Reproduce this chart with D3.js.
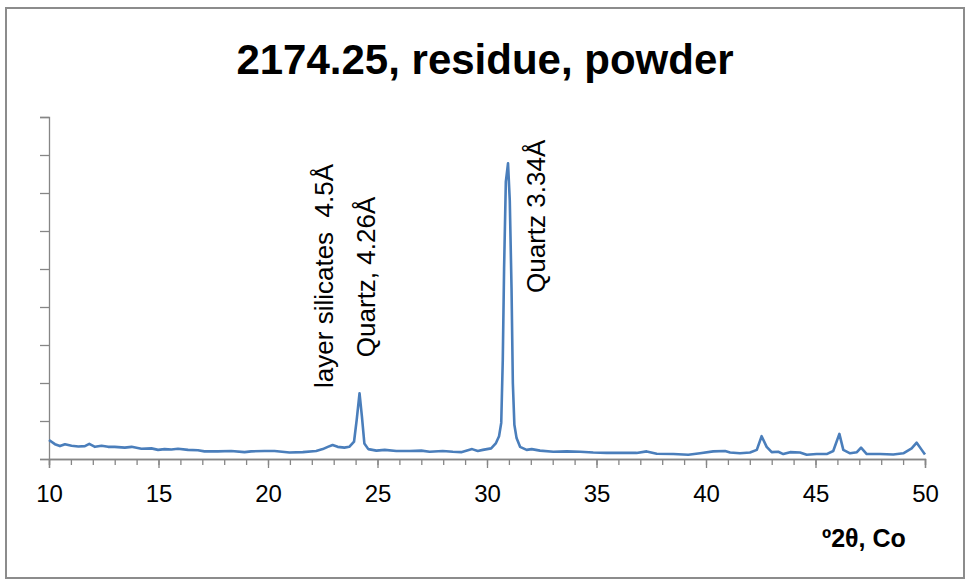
<!DOCTYPE html>
<html>
<head>
<meta charset="utf-8">
<script src="https://cdnjs.cloudflare.com/ajax/libs/d3/7.8.5/d3.min.js"></script>
<style>
  body { margin: 0; background: #fff; }
  text { font-family: "Liberation Sans", Arial, sans-serif; }
</style>
</head>
<body>
<div id="chart"></div>
<script>
// diffractogram: 2theta (Co) and relative intensity
var twoTheta = [10.00, 10.27, 10.50, 10.73, 11.03, 11.34, 11.64, 11.84, 12.10, 12.40, 12.70, 13.00,
  13.46, 13.77, 14.22, 14.68, 14.98, 15.28, 15.59, 15.89, 16.35, 16.80, 17.10, 17.71, 18.32, 18.93,
  19.23, 19.84, 20.30, 20.98, 21.59, 22.20, 22.50, 22.73, 22.95, 23.18, 23.49, 23.71, 23.93, 24.05,
  24.18, 24.29, 24.40, 24.58, 24.95, 25.33, 25.86, 26.47, 27.00, 27.38, 27.98, 28.44, 28.82, 29.32,
  29.58, 29.81, 30.19, 30.40, 30.55, 30.65, 30.72, 30.78, 30.86, 30.96, 31.04, 31.12, 31.18, 31.25,
  31.35, 31.51, 31.81, 32.04, 32.42, 33.03, 33.64, 34.25, 34.85, 35.46, 36.22, 36.83, 37.29, 37.75,
  38.51, 39.19, 39.73, 40.33, 40.87, 41.10, 41.55, 42.01, 42.32, 42.54, 42.77, 43.00, 43.30, 43.53,
  43.84, 44.29, 44.60, 45.05, 45.51, 45.81, 46.09, 46.27, 46.58, 46.89, 47.08, 47.34, 47.95, 48.55,
  49.01, 49.39, 49.62, 49.85, 50.00];
var intensity = [0.50, 0.39, 0.34, 0.39, 0.35, 0.33, 0.34, 0.40, 0.32, 0.35, 0.32, 0.32,
  0.30, 0.32, 0.27, 0.28, 0.24, 0.26, 0.25, 0.27, 0.24, 0.23, 0.20, 0.20, 0.21, 0.18,
  0.20, 0.21, 0.21, 0.17, 0.18, 0.21, 0.26, 0.32, 0.37, 0.32, 0.30, 0.32, 0.46, 1.03,
  1.73, 1.11, 0.41, 0.26, 0.22, 0.24, 0.21, 0.21, 0.22, 0.19, 0.21, 0.19, 0.18, 0.26,
  0.21, 0.24, 0.28, 0.41, 0.60, 0.95, 2.60, 5.00, 7.30, 7.78, 6.80, 4.50, 2.00, 0.90,
  0.55, 0.32, 0.24, 0.26, 0.22, 0.19, 0.20, 0.19, 0.17, 0.16, 0.16, 0.16, 0.20, 0.14,
  0.13, 0.11, 0.15, 0.20, 0.21, 0.17, 0.15, 0.17, 0.24, 0.60, 0.32, 0.18, 0.19, 0.13,
  0.18, 0.17, 0.11, 0.13, 0.13, 0.21, 0.66, 0.24, 0.15, 0.18, 0.30, 0.13, 0.13, 0.12,
  0.15, 0.28, 0.43, 0.24, 0.12];

var majorTicks = [10, 15, 20, 25, 30, 35, 40, 45, 50];
var yTicks = [0, 1, 2, 3, 4, 5, 6, 7, 8, 9];

// peak labels: text, anchor (2theta, intensity) where the rotated text starts
var peakLabels = ["layer silicates  4.5Å", "Quartz, 4.26Å", "Quartz 3.34Å"];
var labelTheta = [22.98, 24.9, 32.65];
var labelLevel = [1.87, 2.68, 4.37];

var W = 970, H = 583;
var margin = {top: 117, right: 45, bottom: 124, left: 49},
    width = W - margin.left - margin.right,
    height = H - margin.top - margin.bottom;

var root = d3.select("#chart")
  .append("svg")
    .attr("width", W)
    .attr("height", H);

// outer frame
root.append("rect")
  .attr("x", 6).attr("y", 8)
  .attr("width", 958).attr("height", 570)
  .attr("fill", "none")
  .attr("stroke", "#8c8c8c")
  .attr("stroke-width", 2);

root.append("text")
  .attr("x", 485).attr("y", 74)
  .attr("text-anchor", "middle")
  .style("font-size", "42px")
  .style("font-weight", "bold")
  .text("2174.25, residue, powder");

var svg = root.append("g")
  .attr("transform", "translate(" + margin.left + "," + margin.top + ")");

var x = d3.scaleLinear().domain([10, 50]).range([0, width]);
var y = d3.scaleLinear().domain([0, 9]).range([height, 0]);

// minor ticks every degree
svg.append("g")
  .attr("class", "axis")
  .attr("transform", "translate(0," + height + ")")
  .call(d3.axisBottom(x).tickValues(d3.range(10, 51, 1)).tickSize(6).tickFormat(""));

// major ticks with labels
svg.append("g")
  .attr("class", "axis")
  .attr("transform", "translate(0," + height + ")")
  .call(d3.axisBottom(x).tickValues(majorTicks).tickSize(9).tickPadding(17).tickFormat(d3.format("d")))
  .selectAll("text")
    .style("font-family", "Liberation Sans, Arial, sans-serif")
    .style("font-size", "24px")
    .attr("fill", "#000");

svg.append("g")
  .attr("class", "axis")
  .call(d3.axisLeft(y).tickValues(yTicks).tickSize(9).tickFormat(""));

svg.selectAll(".axis path, .axis line")
  .attr("stroke", "#868686")
  .attr("stroke-width", 1.3);

svg.append("text")
  .attr("x", 773).attr("y", 430)
  .style("font-size", "25px")
  .style("font-weight", "bold")
  .text("º2θ, Co");

var pts = twoTheta.map(function(t, i) { return [t, intensity[i]]; });

var line = d3.line()
  .x(function(d) { return x(d[0]); })
  .y(function(d) { return y(d[1]); });

svg.append("path")
  .datum(pts)
  .attr("d", line)
  .attr("fill", "none")
  .attr("stroke", "#4a7ebb")
  .attr("stroke-width", 2.6)
  .attr("stroke-linejoin", "round");

peakLabels.forEach(function(lab, i) {
  var px = x(labelTheta[i]), py = y(labelLevel[i]);
  svg.append("text")
    .attr("transform", "translate(" + px + "," + py + ")rotate(-90)")
    .style("font-size", "26px")
    .style("white-space", "pre")
    .text(lab);
});
</script>
</body>
</html>
